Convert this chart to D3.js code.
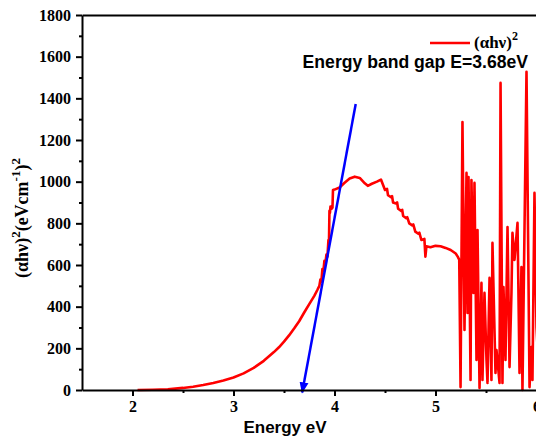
<!DOCTYPE html>
<html>
<head>
<meta charset="utf-8">
<script src="https://cdn.jsdelivr.net/npm/d3@7"></script>
<style>
  body { margin: 0; background: #fff; }
  svg { display: block; }
</style>
</head>
<body>
<div id="chart-area"></div>
<script>
// photon energy (eV) and (alpha h nu)^2
var energy = [2.05, 2.2, 2.35, 2.5, 2.6, 2.7, 2.8, 2.9, 3.0, 3.1, 3.2, 3.3, 3.4, 3.45, 3.5, 3.55, 3.6, 3.65, 3.7, 3.75,
    3.8, 3.83, 3.85, 3.86, 3.87, 3.88, 3.89, 3.9, 3.91, 3.92, 3.93, 3.94, 3.945, 3.95, 3.955, 3.96, 3.97, 3.98, 3.985, 4.0,
    4.05, 4.1, 4.15, 4.2, 4.25, 4.3, 4.33, 4.37, 4.42, 4.46, 4.48, 4.5, 4.52, 4.53, 4.56, 4.57, 4.58, 4.61, 4.62, 4.63,
    4.66, 4.67, 4.68, 4.71, 4.72, 4.74, 4.77, 4.78, 4.8, 4.83, 4.84, 4.86, 4.89, 4.9, 4.91, 4.95, 5.0, 5.05, 5.1, 5.15,
    5.2, 5.22, 5.235, 5.248, 5.267, 5.287, 5.307, 5.317, 5.327, 5.347, 5.356, 5.376, 5.386, 5.406, 5.416, 5.436, 5.455, 5.465, 5.485, 5.505,
    5.515, 5.535, 5.554, 5.564, 5.594, 5.604, 5.634, 5.644, 5.663, 5.673, 5.693, 5.713, 5.733, 5.752, 5.762, 5.782, 5.812, 5.832, 5.851, 5.861,
    5.901, 5.931, 5.95, 5.96, 5.98, 6.0, 6.02, 6.05];
var alphaHv2 = [0, 1, 3, 10, 16, 24, 34, 46, 60, 80, 106, 140, 182, 205, 232, 262, 295, 330, 372, 412,
    452, 480, 500, 530, 520, 580, 570, 620, 610, 650, 640, 720, 700, 860, 850, 880, 870, 875, 960, 962,
    972, 995, 1015, 1024, 1018, 992, 980, 990, 1000, 1010, 985, 960, 965, 935, 925, 930, 900, 895, 900, 870,
    860, 865, 835, 825, 830, 800, 790, 795, 760, 750, 755, 720, 725, 640, 690, 685, 692, 690, 682, 672,
    655, 640, 625, 14, 1286, 288, 1042, 370, 1022, 48, 1008, 466, 994, 144, 768, 10, 514, 48, 466, 144,
    34, 538, 48, 706, 82, 192, 34, 1474, 34, 494, 144, 782, 110, 466, 754, 624, 802, 82, 590, 0,
    1527, 14, 206, 48, 946, 300, 120, 700];

var xTicks = [2, 3, 4, 5, 6];
var yTicks = [0, 200, 400, 600, 800, 1000, 1200, 1400, 1600, 1800];
var xMinor = [2.5, 3.5, 4.5, 5.5, 6.5];
var yMinor = [100, 300, 500, 700, 900, 1100, 1300, 1500, 1700];

// tangent line: from the steep edge down to the band gap on the axis
var bandGap = 3.68;
var tangentTop = [4.21, 1373];
var tangentBottom = [bandGap, -12];

var W = 536, H = 439;
var mLeft = 82, mTop = 15, mBottom = 390;

var svg = d3.select("#chart-area").append("svg")
    .attr("width", W)
    .attr("height", H);

var x = d3.scaleLinear().domain([1.5, 6.5]).range([mLeft, mLeft + 505]);
var y = d3.scaleLinear().domain([0, 1800]).range([mBottom, mTop]);

var serif = "'Liberation Serif', 'Times New Roman', serif";
var sans = "'Liberation Sans', Arial, sans-serif";

// blue arrow marker
svg.append("defs").append("marker")
    .attr("id", "arrow")
    .attr("viewBox", "0 0 10 10")
    .attr("refX", 9).attr("refY", 5)
    .attr("markerWidth", 4.5).attr("markerHeight", 5)
    .attr("markerUnits", "strokeWidth")
    .attr("orient", "auto")
    .append("path")
    .attr("d", "M0,1 L10,5 L0,9 z")
    .attr("fill", "#0000ff");

// data line
var line = d3.line()
    .x(function(d, i) { return x(energy[i]); })
    .y(function(d) { return y(d); });

svg.append("path")
    .attr("d", line(alphaHv2))
    .attr("fill", "none")
    .attr("stroke", "#ff0000")
    .attr("stroke-width", 2.6)
    .attr("stroke-linejoin", "round");

// tangent arrow
svg.append("line")
    .attr("x1", x(tangentTop[0])).attr("y1", y(tangentTop[1]))
    .attr("x2", x(tangentBottom[0])).attr("y2", y(tangentBottom[1]))
    .attr("stroke", "#0000ff")
    .attr("stroke-width", 2.5)
    .attr("marker-end", "url(#arrow)");

// axes
function styleAxis(g) {
    g.select(".domain").attr("stroke", "#000").attr("stroke-width", 2);
    g.selectAll(".tick line").attr("stroke", "#000").attr("stroke-width", 2);
    g.selectAll(".tick text")
        .style("font-family", serif)
        .style("font-weight", "bold")
        .style("font-size", "16px")
        .attr("fill", "#000");
}

svg.append("g")
    .attr("transform", "translate(0," + mBottom + ")")
    .call(d3.axisBottom(x).tickValues(xTicks).tickSize(6).tickSizeOuter(0).tickPadding(5).tickFormat(d3.format("d")))
    .call(styleAxis);

svg.append("g")
    .attr("transform", "translate(0," + mBottom + ")")
    .call(d3.axisBottom(x).tickValues(xMinor).tickSize(3).tickSizeOuter(0).tickFormat(""))
    .call(styleAxis)
    .select(".domain").remove();

svg.append("g")
    .attr("transform", "translate(" + mLeft + ",0)")
    .call(d3.axisLeft(y).tickValues(yTicks).tickSize(6).tickSizeOuter(0).tickPadding(5).tickFormat(d3.format("d")))
    .call(styleAxis);

svg.append("g")
    .attr("transform", "translate(" + mLeft + ",0)")
    .call(d3.axisLeft(y).tickValues(yMinor).tickSize(3).tickSizeOuter(0).tickFormat(""))
    .call(styleAxis)
    .select(".domain").remove();

// top frame
svg.append("g")
    .attr("transform", "translate(0," + mTop + ")")
    .call(d3.axisTop(x).tickValues([]).tickSizeOuter(0))
    .call(styleAxis);

// axis titles
svg.append("text")
    .attr("x", 285).attr("y", 433)
    .attr("text-anchor", "middle")
    .attr("font-family", sans)
    .attr("font-weight", "bold")
    .attr("font-size", "17px")
    .text("Energy eV");

var yLabel = svg.append("text")
    .attr("transform", "translate(28,218) rotate(-90)")
    .attr("text-anchor", "middle")
    .attr("font-family", serif)
    .attr("font-weight", "bold")
    .attr("font-size", "18px");
yLabel.append("tspan").text("(\u03B1h\u03BD)");
yLabel.append("tspan").attr("dy", -8).attr("font-size", "13px").text("2");
yLabel.append("tspan").attr("dy", 8).text("(eVcm");
yLabel.append("tspan").attr("dy", -8).attr("font-size", "13px").text("-1");
yLabel.append("tspan").attr("dy", 8).text(")");
yLabel.append("tspan").attr("dy", -8).attr("font-size", "13px").text("2");

// legend
svg.append("line")
    .attr("x1", 430).attr("x2", 470)
    .attr("y1", 43).attr("y2", 43)
    .attr("stroke", "#ff0000")
    .attr("stroke-width", 2.5);

var legText = svg.append("text")
    .attr("x", 474).attr("y", 48)
    .attr("font-family", serif)
    .attr("font-weight", "bold")
    .attr("font-size", "17px");
legText.append("tspan").text("(\u03B1h\u03BD)");
legText.append("tspan").attr("dy", -8).attr("font-size", "12px").text("2");

svg.append("text")
    .attr("x", 528).attr("y", 68)
    .attr("text-anchor", "end")
    .attr("font-family", sans)
    .attr("font-weight", "bold")
    .attr("font-size", "17.6px")
    .text("Energy band gap E=" + bandGap + "eV");
</script>
</body>
</html>
